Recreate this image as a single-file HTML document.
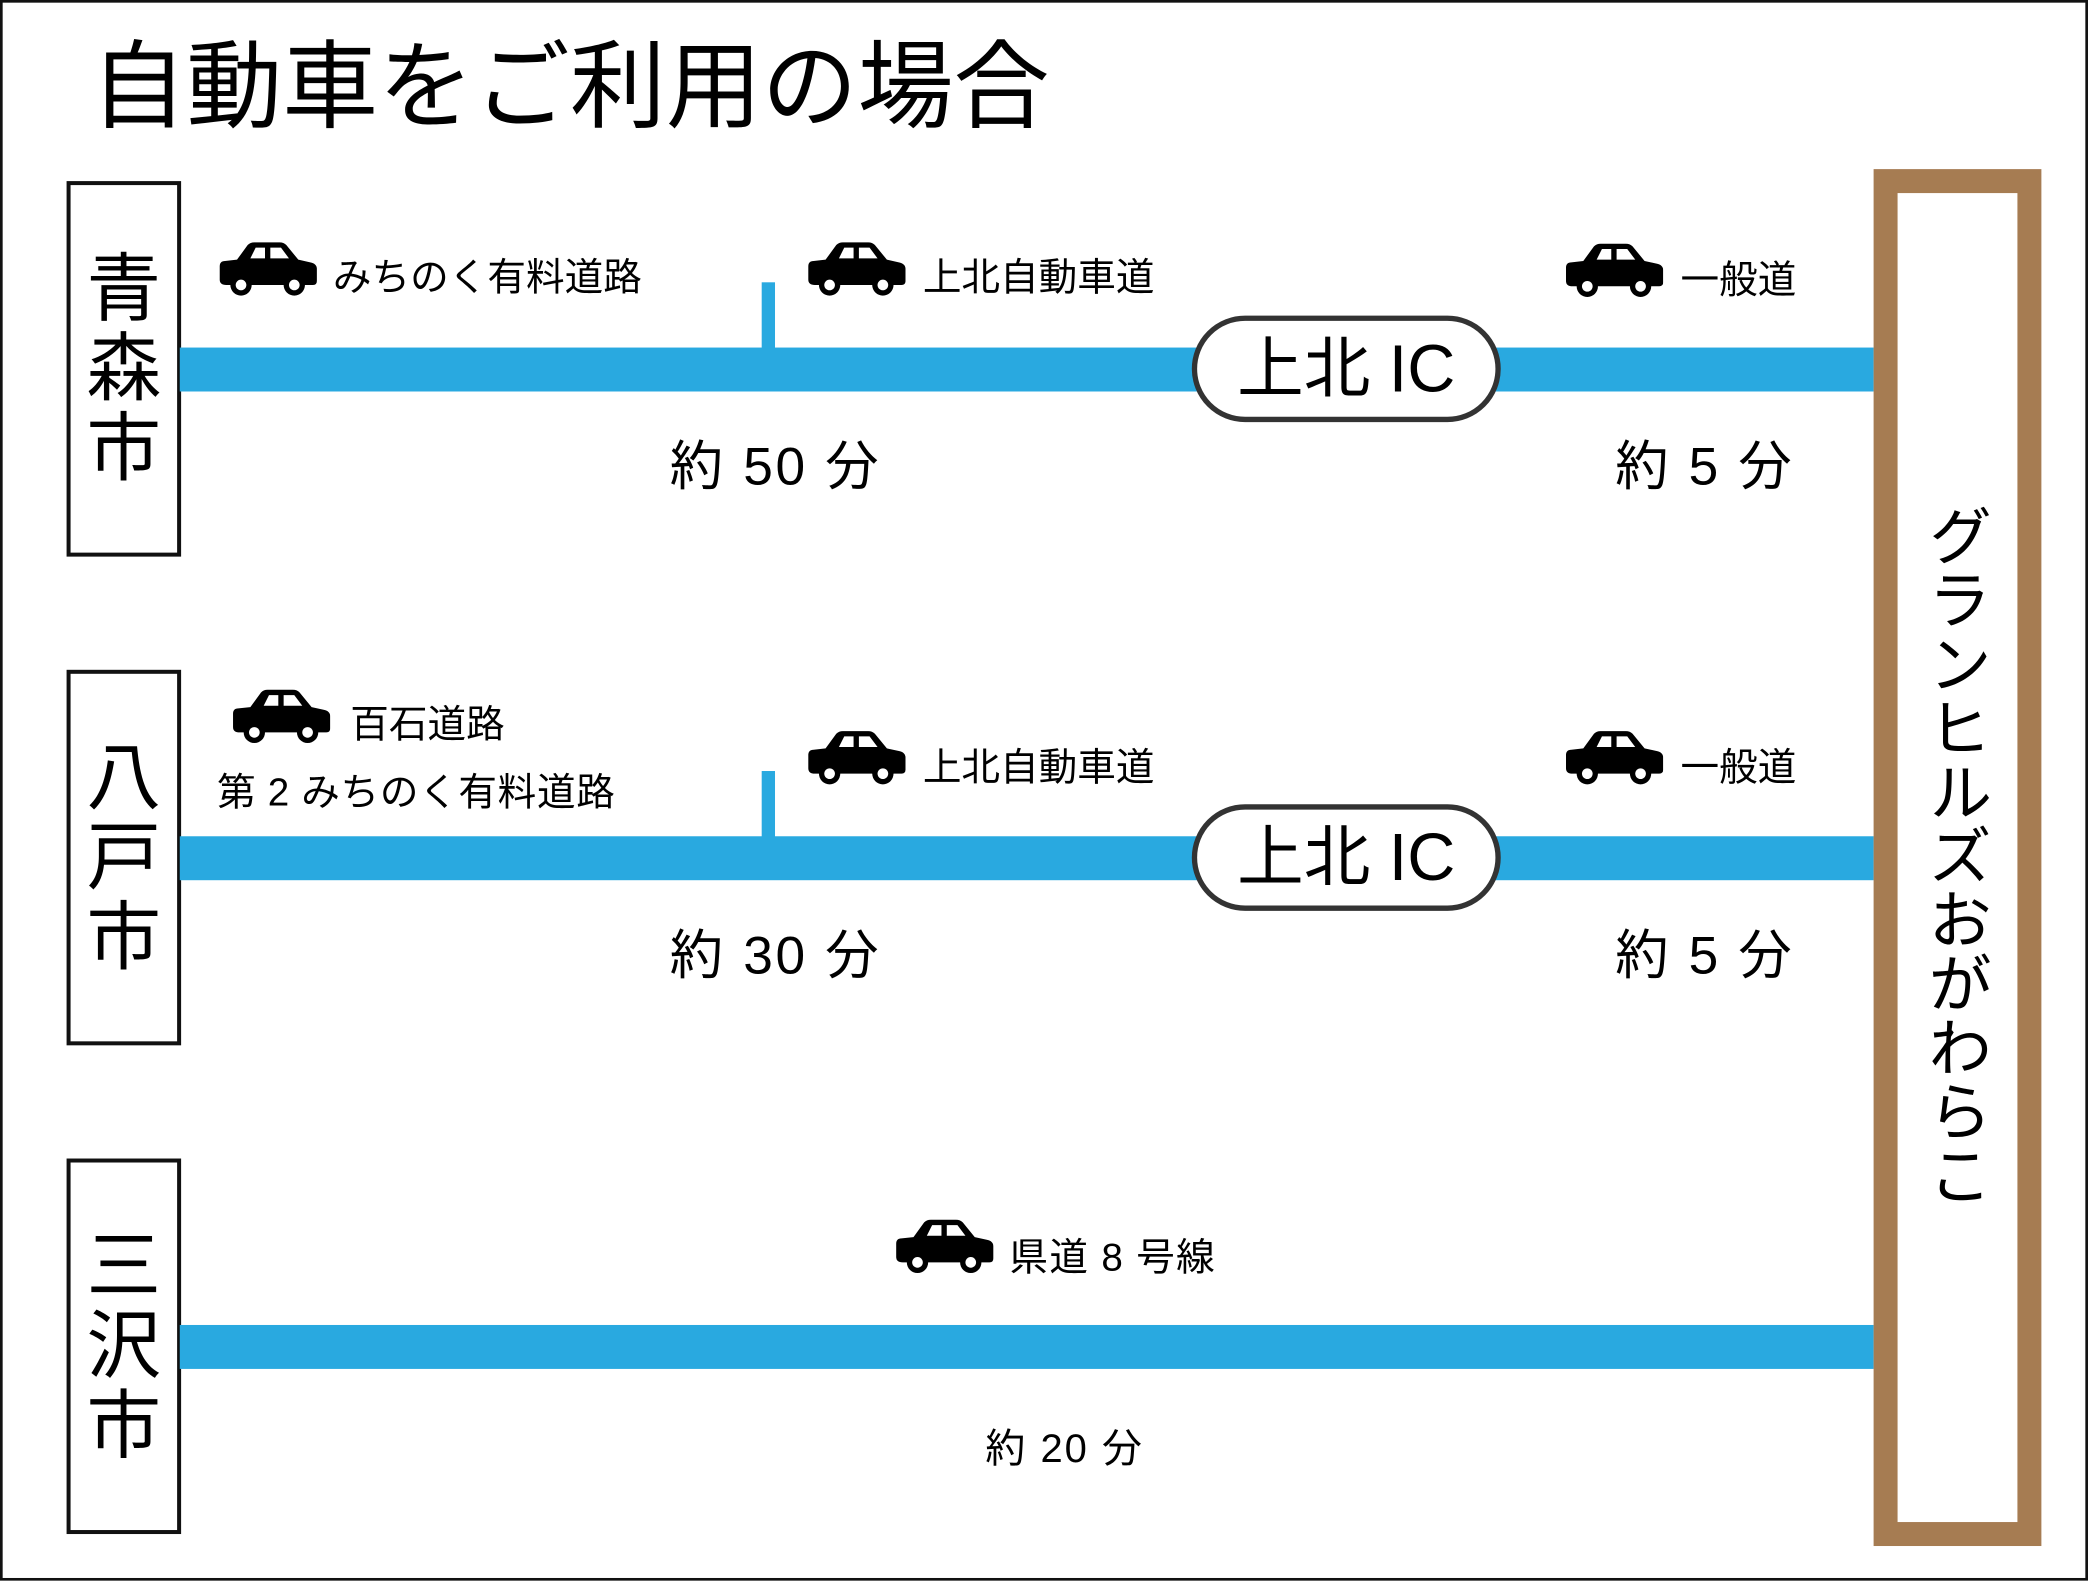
<!DOCTYPE html>
<html><head><meta charset="utf-8"><style>
html,body{margin:0;padding:0;background:#fff;}
body{width:2088px;height:1580px;overflow:hidden;position:relative;}
#w{position:absolute;left:0;top:0;width:1568px;height:1187px;transform:scale(1.33163);transform-origin:0 0;font-family:"Liberation Sans","Noto Sans CJK JP",sans-serif;color:#000;}
.a{position:absolute;white-space:nowrap;}
.frame{left:0;top:0;width:1564px;height:1183px;border:2px solid #111;}
.city{width:80px;height:276px;border:3px solid #111;background:#fff;display:flex;flex-direction:column;align-items:center;justify-content:center;font-size:56px;line-height:60px;}
.road{left:135px;width:1272px;height:33px;background:#29a9e0;}
.tick{width:10px;height:50px;background:#29a9e0;}
.pill{width:224px;height:72px;border:4px solid #333;border-radius:40px;background:#fff;font-size:50px;line-height:72px;text-align:center;}
.lbl{font-size:29px;line-height:32px;}
.tm{font-size:40px;line-height:44px;letter-spacing:2px;}
.car{width:74px;height:42px;}
</style></head><body><div id="w">
<div class="a frame"></div>
<div class="a" style="left:68px;top:26px;font-size:72px;line-height:80px;">自動車をご利用の場合</div>

<div class="a city" style="left:50px;top:136px;"><span>青</span><span>森</span><span>市</span></div>
<div class="a city" style="left:50px;top:503px;"><span>八</span><span>戸</span><span>市</span></div>
<div class="a city" style="left:50px;top:870px;"><span>三</span><span>沢</span><span>市</span></div>

<div class="a road" style="top:261px;"></div>
<div class="a road" style="top:628px;"></div>
<div class="a road" style="top:995px;"></div>
<div class="a tick" style="left:572px;top:212px;"></div>
<div class="a tick" style="left:572px;top:579px;"></div>

<div class="a pill" style="left:895px;top:237px;">上北 IC</div>
<div class="a pill" style="left:895px;top:604px;">上北 IC</div>

<div class="a" style="left:1407px;top:127px;width:90px;height:998px;border:18px solid #a67c52;background:#fff;"></div>
<div class="a" style="left:1440px;top:378px;width:50px;font-size:48px;line-height:48px;writing-mode:vertical-rl;">グランヒルズおがわらこ</div>

<svg width="0" height="0" style="position:absolute"><defs><symbol id="car" viewBox="0 0 74 42"><path d="M14 14 L22 3 Q24 1 27 1 L46 1 Q49 1 51 3 L60 14 L69 16 Q74 17 74 21 L74 30 Q74 33 71 33 L6 33 Q1 33 1 29 L1 19 Q1 15 5 15 Z" fill="#000"/><path d="M24 13 L28 5 L35 5 L35 13 Z M39 5 L47 5 L53 13 L39 13 Z" fill="#fff"/><circle cx="17" cy="33" r="8" fill="#000"/><circle cx="17" cy="33" r="4" fill="#fff"/><circle cx="57" cy="33" r="8" fill="#000"/><circle cx="57" cy="33" r="4" fill="#fff"/></symbol></defs></svg>

<svg class="a car" style="left:164px;top:181px;"><use href="#car"/></svg>
<div class="a lbl" style="left:250px;top:193px;">みちのく有料道路</div>
<svg class="a car" style="left:606px;top:181px;"><use href="#car"/></svg>
<div class="a lbl" style="left:693px;top:193px;">上北自動車道</div>
<svg class="a car" style="left:1175px;top:182px;"><use href="#car"/></svg>
<div class="a lbl" style="left:1262px;top:195px;">一般道</div>
<div class="a tm" style="left:503px;top:329px;">約 50 分</div>
<div class="a tm" style="left:1213px;top:329px;">約 5 分</div>

<svg class="a car" style="left:174px;top:517px;"><use href="#car"/></svg>
<div class="a lbl" style="left:263px;top:529px;">百石道路</div>
<div class="a lbl" style="left:163px;top:580px;letter-spacing:0.5px;">第 2 みちのく有料道路</div>
<svg class="a car" style="left:606px;top:548px;"><use href="#car"/></svg>
<div class="a lbl" style="left:693px;top:561px;">上北自動車道</div>
<svg class="a car" style="left:1175px;top:548px;"><use href="#car"/></svg>
<div class="a lbl" style="left:1262px;top:561px;">一般道</div>
<div class="a tm" style="left:503px;top:696px;">約 30 分</div>
<div class="a tm" style="left:1213px;top:696px;">約 5 分</div>

<svg class="a car" style="left:672px;top:915px;"><use href="#car"/></svg>
<div class="a lbl" style="left:758px;top:929px;letter-spacing:1px;">県道 8 号線</div>
<div class="a" style="left:740px;top:1071px;font-size:30px;line-height:36px;letter-spacing:1.5px;">約 20 分</div>
</div></body></html>
